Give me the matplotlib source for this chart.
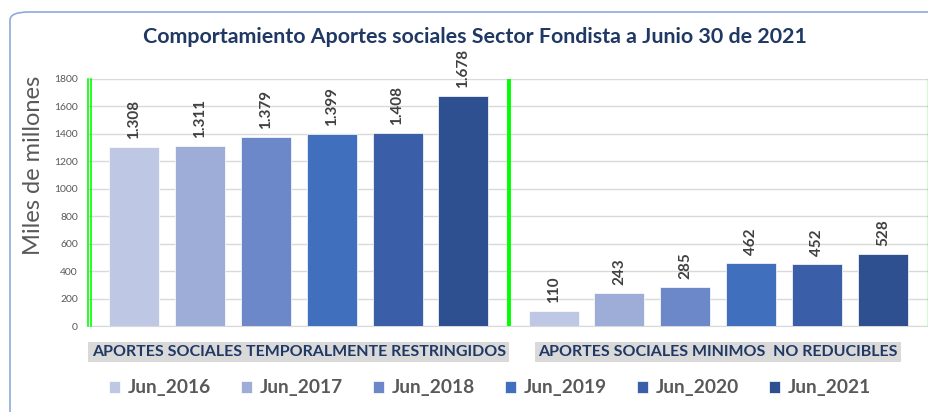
import matplotlib
matplotlib.use("Agg")
import matplotlib.pyplot as plt
from matplotlib.patches import FancyBboxPatch
from matplotlib.transforms import ScaledTranslation
import numpy as np

categories = ["APORTES SOCIALES TEMPORALMENTE RESTRINGIDOS",
              "APORTES SOCIALES MINIMOS  NO REDUCIBLES"]
series = ["Jun_2016", "Jun_2017", "Jun_2018", "Jun_2019", "Jun_2020", "Jun_2021"]
values = {
    "Jun_2016": [1308, 110],
    "Jun_2017": [1311, 243],
    "Jun_2018": [1379, 285],
    "Jun_2019": [1399, 462],
    "Jun_2020": [1408, 452],
    "Jun_2021": [1678, 528],
}
colors = ["#BEC8E4", "#9DADD8", "#6D88C8", "#406FBD", "#3A5FA8", "#2E5090"]
yticks = [0, 200, 400, 600, 800, 1000, 1200, 1400, 1600, 1800]

fam = ["Lato", "DejaVu Sans"]
plt.rcParams['font.family'] = fam

fig = plt.figure(figsize=(9.29, 4.12), dpi=100)
# outer rounded border
border = FancyBboxPatch((10/929, -0.2), 1.2, 1 - 12/412 + 0.2,
                        boxstyle="round,pad=0,rounding_size=0.02",
                        transform=fig.transFigure, fill=False,
                        edgecolor="#8EAADB", linewidth=1.2, clip_on=False)
fig.patches.append(border)

ax = fig.add_axes([89/929, 1 - 326/412, (928 - 89)/929, (326 - 79)/412])

n = len(series)
step = 0.157
width = 0.119
x = np.arange(len(categories))
for i, (s, c) in enumerate(zip(series, colors)):
    off = (i - (n - 1) / 2) * step
    bars = ax.bar(x + off, values[s], width, color=c, edgecolor="white",
                  linewidth=0.5, zorder=3, label=s)
    for b, v in zip(bars, values[s]):
        lbl = f"{v:,}".replace(",", ".")
        ax.annotate(lbl, (b.get_x() + b.get_width() / 2, v),
                    xytext=(0, 5.5), textcoords="offset points",
                    rotation=90, ha="center", va="bottom",
                    fontsize=11, fontweight="bold", color="#404040",
                    annotation_clip=False)

ax.set_xlim(-0.5, 1.5)
ax.set_ylim(0, 1800)
ax.set_yticks(yticks)
ax.set_yticklabels([str(t) for t in yticks], fontsize=7.5, color="#595959")
ax.tick_params(axis="y", length=0, pad=8)
ax.tick_params(axis="x", length=0)
ax.set_xticks([])
ax.yaxis.grid(True, color="#D9D9D9", linewidth=1, zorder=0)
ax.set_axisbelow(True)
for sp in ["top", "right"]:
    ax.spines[sp].set_visible(False)
ax.spines["bottom"].set_color("#D9D9D9")
ax.spines["left"].set_visible(False)

# green separators (left one is a double line)
for dx in (-1.5 / 100, 1.5 / 100):
    tr = ax.get_xaxis_transform() + ScaledTranslation(dx, 0, fig.dpi_scale_trans)
    ax.plot([-0.5, -0.5], [0, 1], transform=tr, color="#00FF00",
            linewidth=1.2, zorder=4, clip_on=False)
ax.axvline(0.5, color="#00FF00", linewidth=2.8, zorder=4)
ax.axvline(1.5, color="#00FF00", linewidth=1.0, zorder=4)

# category labels
for xi, cat in zip(x, categories):
    ax.text(xi, -0.105, cat, transform=ax.get_xaxis_transform(),
            ha="center", va="center", fontsize=11.5, fontweight="bold",
            color="#1F3864",
            bbox=dict(boxstyle="square,pad=0.2", facecolor="#D9D9D9",
                      edgecolor="none"))

ax.set_ylabel("Miles de millones", fontsize=17, color="#595959")
ax.yaxis.set_label_coords((44 - 89) / 839, (326 - 165) / 247)

fig.text(475/929, 1 - 37/412,
         "Comportamiento Aportes sociales Sector Fondista a Junio 30 de 2021",
         ha="center", va="center", fontsize=15.4, fontweight="bold",
         color="#1F3864")

leg = fig.legend(loc="center", bbox_to_anchor=(490/929, 1 - 388/412), ncol=6,
                 frameon=False, fontsize=13.8, handlelength=0.6,
                 handleheight=0.6, handletextpad=0.4, columnspacing=1.55)
for t in leg.get_texts():
    t.set_color("#595959")
    t.set_fontweight("bold")

fig.savefig("out.png", dpi=100)
